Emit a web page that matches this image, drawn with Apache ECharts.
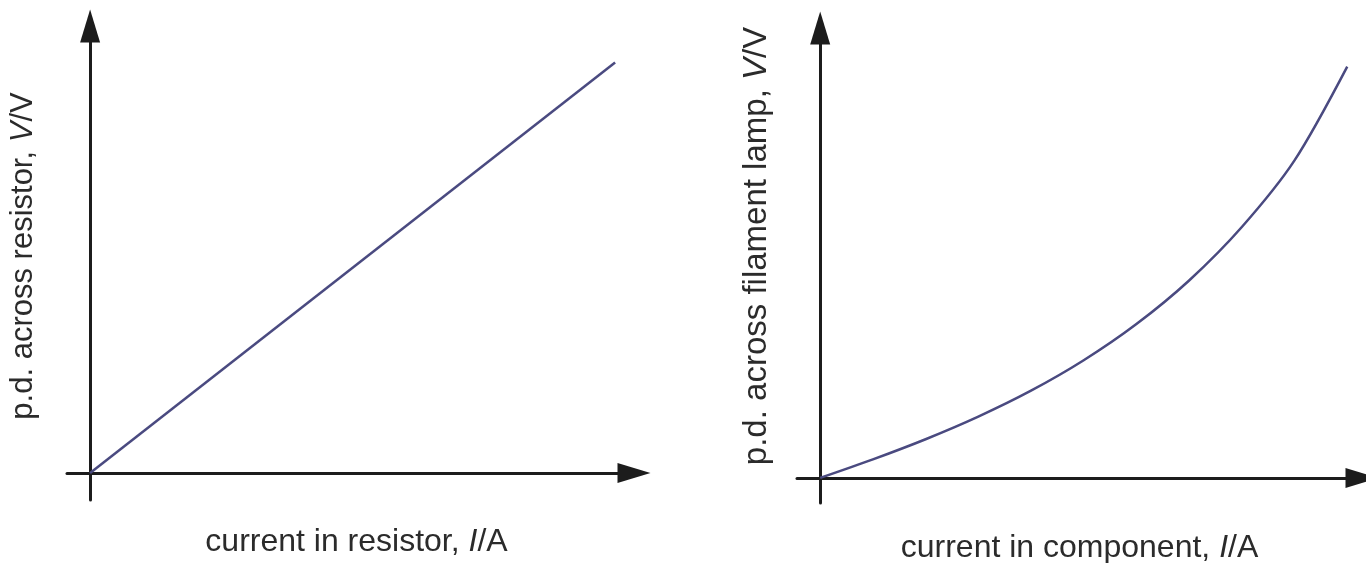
<!DOCTYPE html>
<html>
<head>
<meta charset="utf-8">
<script src="https://cdn.jsdelivr.net/npm/echarts@6/dist/echarts.min.js"></script>
<style>
  html, body { margin: 0; padding: 0; background: #fff; }
  #chart { width: 1366px; height: 563px; }
</style>
</head>
<body>
<div id="chart"></div>
<script>
  // arbitrary units (no ticks on the original)
  var resistorCurrent = [0, 10];
  var resistorPd = [0, 10];

  var lampCurrent = [0, 1, 2, 3, 4, 5, 6, 7, 8, 9, 10];
  var lampPd = [0, 0.45, 0.94, 1.49, 2.12, 2.86, 3.74, 4.8, 6.1, 7.72, 10];

  var font = 'Liberation Sans, Arial, sans-serif';
  var axisColor = '#1c1c1c';
  var lineColor = '#4a4a80';
  var textColor = '#2b2b2b';

  function pairs(xs, ys) {
    return xs.map(function (x, i) { return [x, ys[i]]; });
  }

  function nameStyle(size, pad) {
    return {
      fontFamily: font,
      fontSize: size,
      color: textColor,
      padding: pad || 0,
      rich: {
        i: { fontFamily: font, fontSize: size, color: textColor, fontStyle: 'italic' }
      }
    };
  }

  function axisBase() {
    return {
      type: 'value',
      axisLine: {
        show: true,
        onZero: true,
        symbol: ['none', 'triangle'],
        symbolSize: [20, 33],
        lineStyle: { color: axisColor, width: 3 }
      },
      axisTick: { show: false },
      axisLabel: { show: false },
      splitLine: { show: false }
    };
  }

  // rotated y titles placed as text
  function yTitle(text, x, y, size) {
    return {
      type: 'text',
      x: x, y: y,
      rotation: Math.PI / 2,
      style: {
        text: text,
        fontFamily: font,
        fontSize: size,
        fill: textColor,
        align: 'center',
        verticalAlign: 'middle',
        rich: { i: { fontFamily: font, fontSize: size, fill: textColor, fontStyle: 'italic' } }
      }
    };
  }

  var chart = echarts.init(document.getElementById('chart'));

  var xLeft = axisBase();
  xLeft.gridIndex = 0;
  xLeft.min = -0.44; xLeft.max = 10.36;
  xLeft.name = 'current in resistor, {i|I}/A';
  xLeft.nameLocation = 'middle';
  xLeft.nameGap = 26;
  xLeft.nameTextStyle = nameStyle(32, [0, 0, 0, 12]);

  var yLeft = axisBase();
  yLeft.gridIndex = 0;
  yLeft.min = -0.66; yLeft.max = 10.89;

  var xRight = axisBase();
  xRight.gridIndex = 1;
  xRight.min = -0.44; xRight.max = 10.28;
  xRight.name = 'current in component, {i|I}/A';
  xRight.nameLocation = 'middle';
  xRight.nameGap = 29;
  xRight.nameTextStyle = nameStyle(32);

  var yRight = axisBase();
  yRight.gridIndex = 1;
  yRight.min = -0.61; yRight.max = 10.94;

  var option = {
    animation: false,
    backgroundColor: '#fff',
    grid: [
      { left: 67, top: 26, width: 567, height: 474, outerBoundsMode: 'none', containLabel: false },
      { left: 797, top: 28, width: 565, height: 475, outerBoundsMode: 'none', containLabel: false }
    ],
    xAxis: [xLeft, xRight],
    yAxis: [yLeft, yRight],
    graphic: [
      yTitle('p.d. across resistor, {i|V}/V', 23, 256, 31),
      yTitle('p.d. across filament lamp, {i|V}/V', 757, 246, 33)
    ],
    series: [
      {
        type: 'line',
        xAxisIndex: 0,
        yAxisIndex: 0,
        showSymbol: false,
        lineStyle: { color: lineColor, width: 2.5 },
        data: pairs(resistorCurrent, resistorPd)
      },
      {
        type: 'line',
        xAxisIndex: 1,
        yAxisIndex: 1,
        showSymbol: false,
        smooth: 0.3,
        lineStyle: { color: lineColor, width: 2.5 },
        data: pairs(lampCurrent, lampPd)
      }
    ]
  };

  chart.setOption(option);
</script>
</body>
</html>
